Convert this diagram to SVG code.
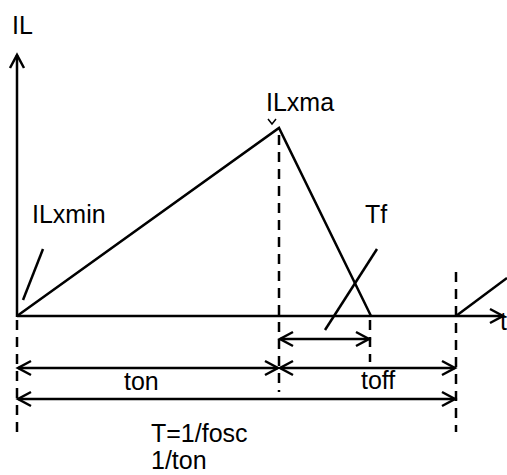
<svg xmlns="http://www.w3.org/2000/svg" width="507" height="475" viewBox="0 0 507 475">
<defs>
<marker id="ah" markerUnits="userSpaceOnUse" markerWidth="20" markerHeight="20" viewBox="-15 -10 20 20" refX="0" refY="0" orient="auto-start-reverse">
<path d="M-13,-7 L0,0 L-13,7" fill="none" stroke="#000" stroke-width="2.5"/>
</marker>
</defs>
<style>
.l{stroke:#000;stroke-width:2.5;fill:none}
.d{stroke:#000;stroke-width:2.5;fill:none;stroke-dasharray:10,7}
.t{font-family:"Liberation Sans",Arial,sans-serif;font-size:25px;fill:#000}
</style>
<rect width="507" height="475" fill="#fff"/>
<g id="connectors">
<line class="l" x1="17" y1="317" x2="17" y2="55" marker-end="url(#ah)"/>
<line class="l" x1="17" y1="316" x2="503" y2="316" marker-end="url(#ah)"/>
<polyline class="l" points="17,316 279,128 371,316"/>
<line class="l" x1="456" y1="316" x2="507" y2="278"/>
<polyline points="268,119 272,124 276,119" fill="none" stroke="#000" stroke-width="1.5"/>
<line class="d" x1="17" y1="320" x2="17" y2="432"/>
<line class="d" x1="279" y1="135" x2="279" y2="392"/>
<line class="d" x1="370" y1="320" x2="370" y2="362"/>
<line class="d" x1="456" y1="272" x2="456" y2="432"/>
<line class="l" x1="43" y1="249" x2="23" y2="300"/>
<line class="l" x1="377" y1="249" x2="325" y2="330"/>
<line class="l" x1="280" y1="339" x2="369" y2="339" marker-start="url(#ah)" marker-end="url(#ah)"/>
<line class="l" x1="18" y1="368" x2="278" y2="368" marker-start="url(#ah)" marker-end="url(#ah)"/>
<line class="l" x1="280" y1="368" x2="455" y2="368" marker-start="url(#ah)" marker-end="url(#ah)"/>
<line class="l" x1="18" y1="399" x2="455" y2="399" marker-start="url(#ah)" marker-end="url(#ah)"/>
</g>
<g id="labels">
<text class="t" x="12" y="34">IL</text>
<text class="t" x="266" y="111">ILxma</text>
<text class="t" x="32" y="223">ILxmin</text>
<text class="t" x="365" y="223">Tf</text>
<text class="t" x="124" y="390">ton</text>
<text class="t" x="361" y="389">toff</text>
<text class="t" x="151" y="442">T=1/fosc</text>
<text class="t" x="151" y="469">1/ton</text>
<text class="t" x="500" y="330">t</text>
</g>
</svg>
